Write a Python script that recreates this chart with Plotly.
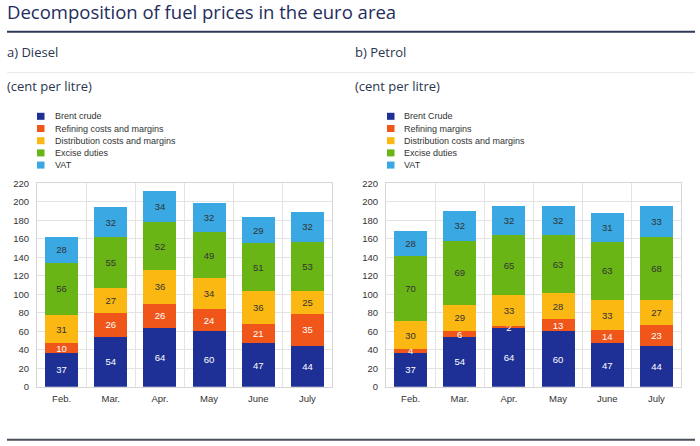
import plotly.graph_objects as go

# Data (cent per litre)
months = ["Feb.", "Mar.", "Apr.", "May", "June", "July"]

diesel_names = ["Brent crude", "Refining costs and margins",
                "Distribution costs and margins", "Excise duties", "VAT"]
petrol_names = ["Brent Crude", "Refining margins",
                "Distribution costs and margins", "Excise duties", "VAT"]

diesel_brent = [37, 54, 64, 60, 47, 44]
diesel_refining = [10, 26, 26, 24, 21, 35]
diesel_distribution = [31, 27, 36, 34, 36, 25]
diesel_excise = [56, 55, 52, 49, 51, 53]
diesel_vat = [28, 32, 34, 32, 29, 32]

petrol_brent = [37, 54, 64, 60, 47, 44]
petrol_refining = [4, 6, 2, 13, 14, 23]
petrol_distribution = [30, 29, 33, 28, 33, 27]
petrol_excise = [70, 69, 65, 63, 63, 68]
petrol_vat = [28, 32, 32, 32, 31, 33]

colors = ["#1e2f96", "#f0561a", "#fbb812", "#6ab516", "#3aa8e2"]
label_colors = ["white", "white", "#333333", "#333333", "#333333"]

W, H = 700, 446


# helpers: page pixels -> paper coords
def px(x):
    return x / W


def py(y):
    return 1 - y / H


fig = go.Figure()

diesel = [diesel_brent, diesel_refining, diesel_distribution, diesel_excise, diesel_vat]
petrol = [petrol_brent, petrol_refining, petrol_distribution, petrol_excise, petrol_vat]

for axis, names, series in [("x", diesel_names, diesel), ("x2", petrol_names, petrol)]:
    yaxis = "y" if axis == "x" else "y2"
    for name, vals, col, tcol in zip(names, series, colors, label_colors):
        fig.add_trace(go.Bar(
            x=months, y=vals, name=name, xaxis=axis, yaxis=yaxis,
            marker_color=col, marker_line_width=0,
            text=vals, textposition="inside", insidetextanchor="middle",
            constraintext="none", textangle=0,
            textfont=dict(color=tcol, size=9.5, family="Liberation Sans"),
            showlegend=False,
        ))

axis_common = dict(
    showgrid=True, gridcolor="#e3e3e3", gridwidth=1,
    showline=True, linecolor="#d6d6d6", mirror=True,
    ticks="", zeroline=False,
    tickfont=dict(size=9.5, color="#333333", family="Liberation Sans"),
)

fig.update_layout(
    width=W, height=H,
    margin=dict(l=0, r=0, t=0, b=0),
    paper_bgcolor="white", plot_bgcolor="white",
    barmode="stack", bargap=0.33,
    showlegend=False,
    xaxis=dict(domain=[px(37), px(332)], tickson="boundaries", anchor="y",
               ticklabelstandoff=3, **axis_common),
    yaxis=dict(domain=[py(390.5), py(181.8)], range=[0, 220], dtick=20, anchor="x",
               ticklabelstandoff=5, **axis_common),
    xaxis2=dict(domain=[px(386), px(681)], tickson="boundaries", anchor="y2",
                ticklabelstandoff=3, **axis_common),
    yaxis2=dict(domain=[py(390.5), py(181.8)], range=[0, 220], dtick=20, anchor="x2",
                ticklabelstandoff=5, **axis_common),
)

# Headings
fig.add_annotation(text="Decomposition of fuel prices in the euro area",
                   x=px(5), y=py(6), xref="paper", yref="paper",
                   xanchor="left", yanchor="middle", showarrow=False,
                   font=dict(size=18.5, color="#1f2d5c", family="Open Sans"))
for x0, panel in [(4.5, "a) Diesel"), (352.5, "b) Petrol")]:
    fig.add_annotation(text=panel, x=px(x0), y=py(47.6), xref="paper", yref="paper",
                       xanchor="left", yanchor="middle", showarrow=False,
                       font=dict(size=13, color="#2b3550", family="Open Sans"))
    fig.add_annotation(text="(cent per litre)", x=px(x0), y=py(81.8), xref="paper", yref="paper",
                       xanchor="left", yanchor="middle", showarrow=False,
                       font=dict(size=13, color="#2b3550", family="Open Sans"))

# Rules
fig.add_shape(type="line", xref="paper", yref="paper", x0=px(7), x1=px(695),
              y0=py(26.4), y1=py(26.4), line=dict(color="#2e3a56", width=2))
fig.add_shape(type="line", xref="paper", yref="paper", x0=px(7), x1=px(695),
              y0=py(68.4), y1=py(68.4), line=dict(color="#e8e8e8", width=1))
fig.add_shape(type="line", xref="paper", yref="paper", x0=px(7), x1=px(695),
              y0=py(444.8), y1=py(444.8), line=dict(color="#4a4f5c", width=2))

# Legends (drawn by hand to get the tight row spacing)
for x0, names in [(37, diesel_names), (387, petrol_names)]:
    for i, (name, col) in enumerate(zip(names, colors)):
        yc = 113.1 + 12.5 * i
        fig.add_shape(type="rect", xref="paper", yref="paper",
                      x0=px(x0), x1=px(x0 + 7.5), y0=py(yc + 3.6), y1=py(yc - 3.6),
                      fillcolor=col, line_width=0)
        fig.add_annotation(text=name, x=px(x0 + 15.5), y=py(yc), xref="paper", yref="paper",
                           xanchor="left", yanchor="middle", showarrow=False,
                           font=dict(size=9, color="#333333", family="Liberation Sans"))

# drop the default 8px body margin so the 700x446 figure fills the page exactly
fig.write_html("out.html", config={"displayModeBar": False},
               post_script="document.body.style.margin = '0';")
